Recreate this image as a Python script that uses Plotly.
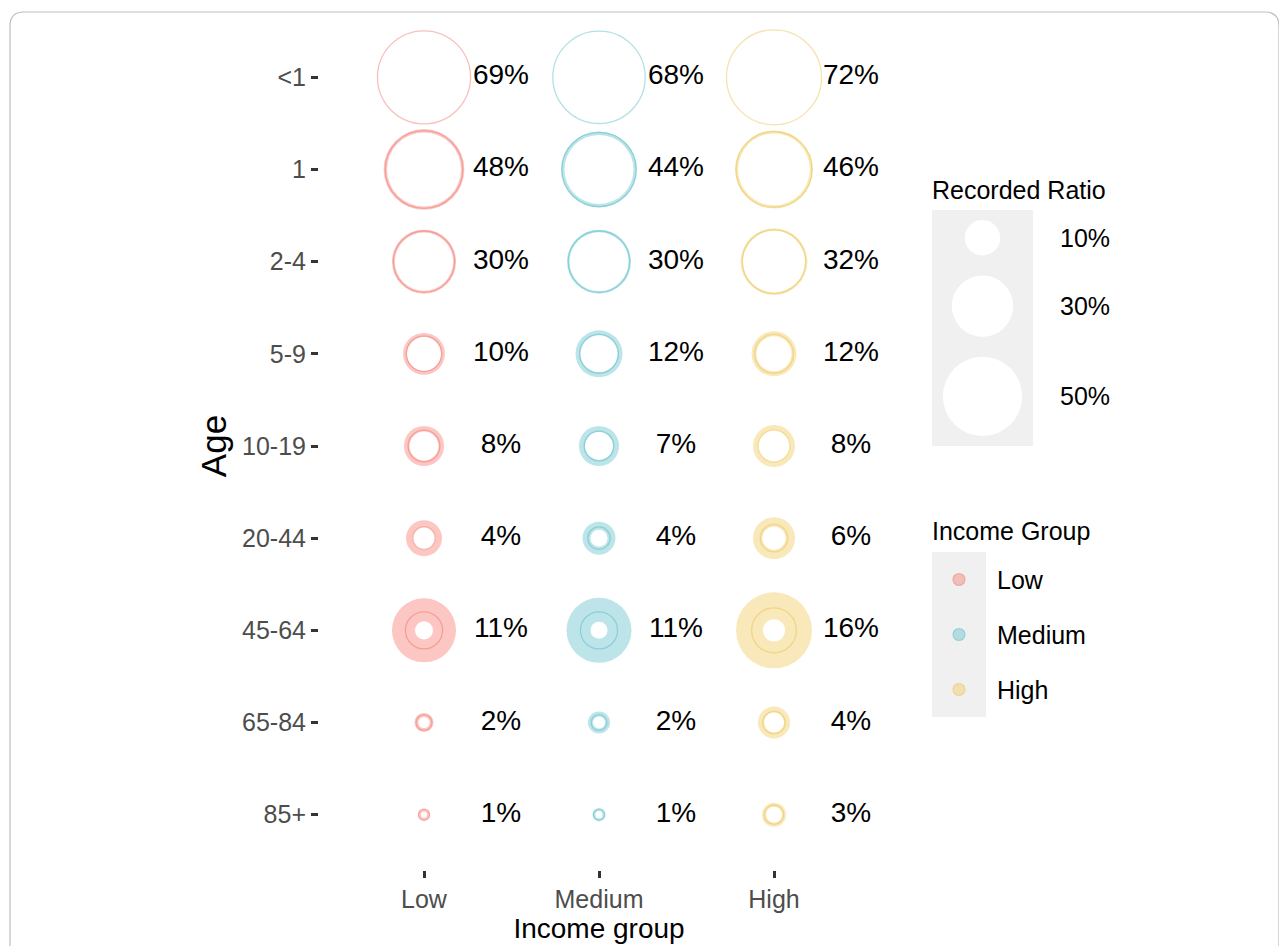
import numpy as np
import plotly.graph_objects as go

# ---------------- data ----------------
ages = ["<1", "1", "2-4", "5-9", "10-19", "20-44", "45-64", "65-84", "85+"]
groups = ["Low", "Medium", "High"]

# recorded ratio (%) -> labels and outline circles
ratio_low = [69, 48, 30, 10, 8, 4, 11, 2, 1]
ratio_medium = [68, 44, 30, 12, 7, 4, 11, 2, 1]
ratio_high = [72, 46, 32, 12, 8, 6, 16, 4, 3]

# outer coloured circle (%)
outer_low = [60, 52, 32.7, 14, 12.8, 10.3, 32.7, 2.9, 1.15]
outer_medium = [58, 46, 32.7, 17.6, 12.8, 8.7, 33.7, 3.9, 1.35]
outer_high = [62, 48.5, 35.5, 16.1, 14.1, 14.1, 46, 8.2, 4.6]

# inner white circle (%)
inner_low = [68, 43.6, 27, 9.2, 6.7, 4.2, 2.6, 1.0, 0.3]
inner_medium = [67, 38, 27.7, 10.9, 6.2, 2.3, 2.3, 1.15, 0.4]
inner_high = [71, 41, 30.6, 9.8, 8.2, 4.2, 3.9, 3.2, 2.0]

legend_ratio_values = [10, 30, 50]
legend_ratio_labels = ["10%", "30%", "50%"]

# ---------------- styling ----------------
OFF = 8                      # page body margin
W, H = 1287 - OFF, 946 - OFF  # figure size
K = 11.2  # px of diameter per sqrt(percent)
FONT = "Liberation Sans, Arial, Helvetica, sans-serif"


def sx(v):
    return v - OFF


def sy(v):
    return v - OFF


fill_col = {
    "Low": "rgba(248,118,109,0.42)",
    "Medium": "rgba(90,190,200,0.40)",
    "High": "rgba(238,200,90,0.42)",
}
line_col = {
    "Low": "rgba(235,105,95,0.42)",
    "Medium": "rgba(60,178,190,0.40)",
    "High": "rgba(230,188,60,0.42)",
}

ratio = {"Low": ratio_low, "Medium": ratio_medium, "High": ratio_high}
outer = {"Low": outer_low, "Medium": outer_medium, "High": outer_high}
inner = {"Low": inner_low, "Medium": inner_medium, "High": inner_high}


def diam(vals):
    return [K * np.sqrt(v) for v in vals]


fig = go.Figure()
yidx = list(range(len(ages)))

for gi, g in enumerate(groups):
    xs = [gi] * len(ages)
    fig.add_trace(go.Scatter(
        x=xs, y=yidx, mode="markers", hoverinfo="skip", showlegend=False,
        cliponaxis=False,
        marker=dict(size=diam(outer[g]), color=fill_col[g], opacity=1,
                    line=dict(width=0)),
    ))
    fig.add_trace(go.Scatter(
        x=xs, y=yidx, mode="markers", hoverinfo="skip", showlegend=False,
        cliponaxis=False,
        marker=dict(size=diam(inner[g]), color="white", opacity=1,
                    line=dict(width=0)),
    ))
    fig.add_trace(go.Scatter(
        x=xs, y=yidx, mode="markers", hoverinfo="skip", showlegend=False,
        cliponaxis=False,
        marker=dict(size=diam(ratio[g]), color="rgba(0,0,0,0)", opacity=1,
                    line=dict(width=1.3, color=line_col[g])),
    ))
    fig.add_trace(go.Scatter(
        x=[gi + 0.44] * len(ages), y=yidx, mode="text", hoverinfo="skip",
        showlegend=False, cliponaxis=False, text=[f"{v}%" for v in ratio[g]],
        textposition="middle center",
        textfont=dict(size=28, color="black", family=FONT),
    ))

# ---------------- manual legends (pixel overlay axes) ----------------
# Recorded ratio legend
box1_x0, box1_x1, box1_y0 = sx(932), sx(1033), sy(210)
key_h = [K * np.sqrt(v) + 20 for v in legend_ratio_values]
centers = []
cur = box1_y0
for h in key_h:
    centers.append(cur + h / 2)
    cur += h
box1_y1 = cur

fig.add_shape(type="rect", xref="x2", yref="y2", x0=box1_x0, x1=box1_x1,
              y0=box1_y0, y1=box1_y1, fillcolor="#F0F0F0", line=dict(width=0),
              layer="below")
fig.add_trace(go.Scatter(
    x=[(box1_x0 + box1_x1) / 2] * len(legend_ratio_values), y=centers,
    xaxis="x2", yaxis="y2", mode="markers", hoverinfo="skip", showlegend=False,
    marker=dict(size=diam(legend_ratio_values), color="white", opacity=1,
                line=dict(width=0)),
))
for c, lab in zip(centers, legend_ratio_labels):
    fig.add_annotation(x=sx(1058), y=c, xref="x2", yref="y2", text=lab,
                       showarrow=False, xanchor="left", yanchor="middle",
                       font=dict(size=25, color="black", family=FONT))
fig.add_annotation(x=sx(930), y=sy(190), xref="x2", yref="y2", text="Recorded Ratio",
                   showarrow=False, xanchor="left", yanchor="middle",
                   font=dict(size=25, color="black", family=FONT))

# Income group legend
box2_x0, box2_x1, box2_y0 = sx(932), sx(986), sy(552)
key2_h = 55
box2_y1 = box2_y0 + key2_h * len(groups)
fig.add_shape(type="rect", xref="x2", yref="y2", x0=box2_x0, x1=box2_x1,
              y0=box2_y0, y1=box2_y1, fillcolor="#F0F0F0", line=dict(width=0),
              layer="below")
for gi, g in enumerate(groups):
    cy = box2_y0 + key2_h * (gi + 0.5)
    fig.add_trace(go.Scatter(
        x=[(box2_x0 + box2_x1) / 2], y=[cy], xaxis="x2", yaxis="y2",
        mode="markers", hoverinfo="skip", showlegend=False,
        marker=dict(size=12, color=fill_col[g], opacity=1,
                    line=dict(width=1.2, color=line_col[g])),
    ))
    fig.add_annotation(x=sx(995), y=cy, xref="x2", yref="y2", text=g,
                       showarrow=False, xanchor="left", yanchor="middle",
                       font=dict(size=25, color="black", family=FONT))
fig.add_annotation(x=sx(930), y=sy(531), xref="x2", yref="y2", text="Income Group",
                   showarrow=False, xanchor="left", yanchor="middle",
                   font=dict(size=25, color="black", family=FONT))

# outer frame with rounded top corners
fig.add_shape(type="path", xref="x2", yref="y2",
              path=(f"M {sx(10)} {sy(960)} L {sx(10)} {sy(26)} "
                    f"Q {sx(10)} {sy(12)} {sx(24)} {sy(12)} "
                    f"L {sx(1265)} {sy(12)} Q {sx(1279)} {sy(12)} {sx(1279)} {sy(26)} "
                    f"L {sx(1279)} {sy(960)}"),
              line=dict(color="#BDBDBD", width=1.2))

# ---------------- layout ----------------
px0, px1, py0, py1 = sx(319), sx(879), sy(22), sy(870)
fig.update_layout(
    width=W, height=H,
    margin=dict(l=0, r=0, t=0, b=0),
    paper_bgcolor="white", plot_bgcolor="rgba(0,0,0,0)",
    showlegend=False,
    xaxis=dict(
        domain=[px0 / W, px1 / W], range=[-0.6, 2.6],
        tickmode="array", tickvals=list(range(len(groups))), ticktext=groups,
        ticks="outside", ticklen=7, tickwidth=2.5, tickcolor="#333333",
        showgrid=False, zeroline=False, showline=False,
        tickfont=dict(size=25, color="#4D4D4D", family=FONT),
        title=dict(text="Income group", font=dict(size=28, color="black", family=FONT),
                   standoff=6),
        anchor="y",
    ),
    yaxis=dict(
        domain=[1 - py1 / H, 1 - py0 / H], range=[8.6, -0.6],
        tickmode="array", tickvals=yidx, ticktext=ages,
        ticks="outside", ticklen=7, tickwidth=2.5, tickcolor="#333333",
        showgrid=False, zeroline=False, showline=False,
        tickfont=dict(size=25, color="#4D4D4D", family=FONT),
        title=dict(text="Age", font=dict(size=35, color="black", family=FONT),
                   standoff=4),
        anchor="x",
    ),
    xaxis2=dict(domain=[0, 1], range=[0, W], visible=False, fixedrange=True,
                anchor="y2"),
    yaxis2=dict(domain=[0, 1], range=[H, 0], visible=False, fixedrange=True,
                anchor="x2"),
)

fig.write_html("out.html")
